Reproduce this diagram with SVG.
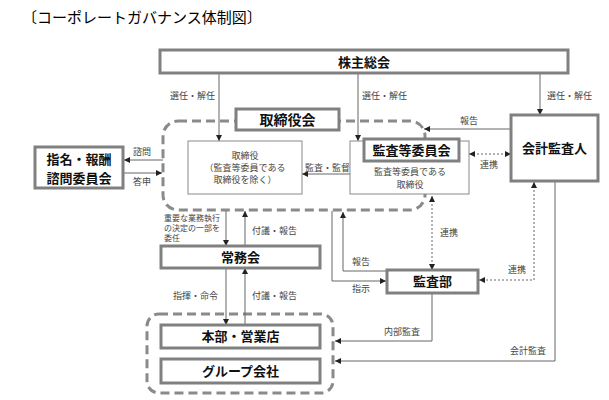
<svg xmlns="http://www.w3.org/2000/svg" width="609" height="400" viewBox="0 0 609 400">
<style>
text{font-family:"Noto Sans CJK JP","Liberation Sans",sans-serif;}
.t{font-size:15px;fill:#000;}
.n{font-size:13px;font-weight:bold;fill:#111;text-anchor:middle;}
.s{font-size:9px;fill:#444;}
.m{font-size:9px;fill:#444;text-anchor:middle;}
.box{fill:#fff;stroke:#808080;stroke-width:3;}
.thin{fill:#fff;stroke:#8a8a8a;stroke-width:1;}
.grp{fill:none;stroke:#8a8a8a;stroke-width:3;stroke-dasharray:9 5;}
.ln{fill:none;stroke:#666;stroke-width:1;}
.dt{fill:none;stroke:#666;stroke-width:1;stroke-dasharray:2 2;}
</style>
<defs>
<marker id="a" viewBox="0 0 6 6" refX="6" refY="3" markerWidth="6" markerHeight="6" orient="auto-start-reverse"><path d="M0,0 L6,3 L0,6z" fill="#222"/></marker>
</defs>
<text class="t" x="22" y="23">〔コーポレートガバナンス体制図〕</text>

<g id="groups">
<rect class="grp" x="163" y="121" width="262" height="89" rx="15"/>
<rect class="grp" x="147" y="314" width="186" height="79" rx="12"/>
</g>

<g id="connectors">
<path class="ln" d="M219,73V141" marker-end="url(#a)"/>
<path class="ln" d="M358,73V141" marker-end="url(#a)"/>
<path class="ln" d="M540,73V115" marker-end="url(#a)"/>
<path class="ln" d="M511,129H424" marker-end="url(#a)"/>
<path class="ln" d="M350,174H302" marker-end="url(#a)"/>
<path class="dt" d="M469,154H511" marker-start="url(#a)" marker-end="url(#a)"/>
<path class="ln" d="M163,160H124" marker-end="url(#a)"/>
<path class="ln" d="M123,173H162" marker-end="url(#a)"/>
<path class="dt" d="M432,196V270" marker-start="url(#a)" marker-end="url(#a)"/>
<path class="dt" d="M534,182V280H479" marker-start="url(#a)" marker-end="url(#a)"/>
<path class="ln" d="M555,181V361H335" marker-end="url(#a)"/>
<path class="ln" d="M432,293V341H335" marker-end="url(#a)"/>
<path class="ln" d="M387,271H343V212" marker-end="url(#a)"/>
<path class="ln" d="M332,211V281H386" marker-end="url(#a)"/>
<path class="ln" d="M226,211V246" marker-end="url(#a)"/>
<path class="ln" d="M245,246V211" marker-end="url(#a)"/>
<path class="ln" d="M226,268V325" marker-end="url(#a)"/>
<path class="ln" d="M245,325V268" marker-end="url(#a)"/>
</g>

<g id="labels">
<text class="s" x="170" y="99">選任・解任</text>
<text class="s" x="362" y="99">選任・解任</text>
<text class="s" x="547" y="99">選任・解任</text>
<text class="s" x="460" y="124">報告</text>
<text class="s" x="480" y="168">連携</text>
<text class="s" x="305" y="171">監査・監督</text>
<text class="s" x="133" y="155">諮問</text>
<text class="s" x="133" y="185">答申</text>
<text class="s" x="440" y="236">連携</text>
<text class="s" x="508" y="273">連携</text>
<text class="s" x="352" y="265">報告</text>
<text class="s" x="352" y="292">指示</text>
<text class="s" x="164" y="221" style="font-size:8px">重要な業務執行</text>
<text class="s" x="164" y="231" style="font-size:8px">の決定の一部を</text>
<text class="s" x="164" y="241" style="font-size:8px">委任</text>
<text class="s" x="252" y="234">付議・報告</text>
<text class="s" x="173" y="299">指揮・命令</text>
<text class="s" x="252" y="299">付議・報告</text>
<text class="s" x="384" y="335">内部監査</text>
<text class="s" x="510" y="354">会計監査</text>
</g>

<g id="kabunushi"><rect class="box" x="160" y="50" width="408" height="23"/><text class="n" x="364" y="66.5">株主総会</text></g>
<g id="torishimariyakukai"><rect class="box" x="236" y="109" width="103" height="21"/><text class="n" x="287.5" y="124.5" style="font-size:14px">取締役会</text></g>
<g id="torishimariyaku"><rect class="thin" x="188" y="141" width="114" height="53"/>
<text class="m" x="245" y="159">取締役</text><text class="m" x="245" y="171">（監査等委員である</text><text class="m" x="245" y="183">取締役を除く）</text></g>
<g id="kansatou"><rect class="thin" x="350" y="141" width="119" height="53"/>
<rect class="box" x="364" y="139" width="95" height="22"/><text class="n" x="411.5" y="155">監査等委員会</text>
<text class="m" x="410" y="175">監査等委員である</text><text class="m" x="410" y="187.5">取締役</text></g>
<g id="kaikeikansanin"><rect class="box" x="511" y="115" width="87" height="66"/><text class="n" x="554.5" y="153">会計監査人</text></g>
<g id="shimei"><rect class="box" x="35" y="147" width="88" height="41"/><text class="n" x="79" y="163.5">指名・報酬</text><text class="n" x="79" y="182.5">諮問委員会</text></g>
<g id="joumukai"><rect class="box" x="161" y="246" width="159" height="22"/><text class="n" x="240.5" y="261.5">常務会</text></g>
<g id="kansabu"><rect class="box" x="387" y="270" width="91" height="23"/><text class="n" x="432.5" y="286">監査部</text></g>
<g id="honbu"><rect class="box" x="161" y="325" width="159" height="23"/><text class="n" x="240.5" y="341">本部・営業店</text></g>
<g id="group"><rect class="box" x="161" y="359" width="159" height="24"/><text class="n" x="240.5" y="375.5">グループ会社</text></g>
</svg>
